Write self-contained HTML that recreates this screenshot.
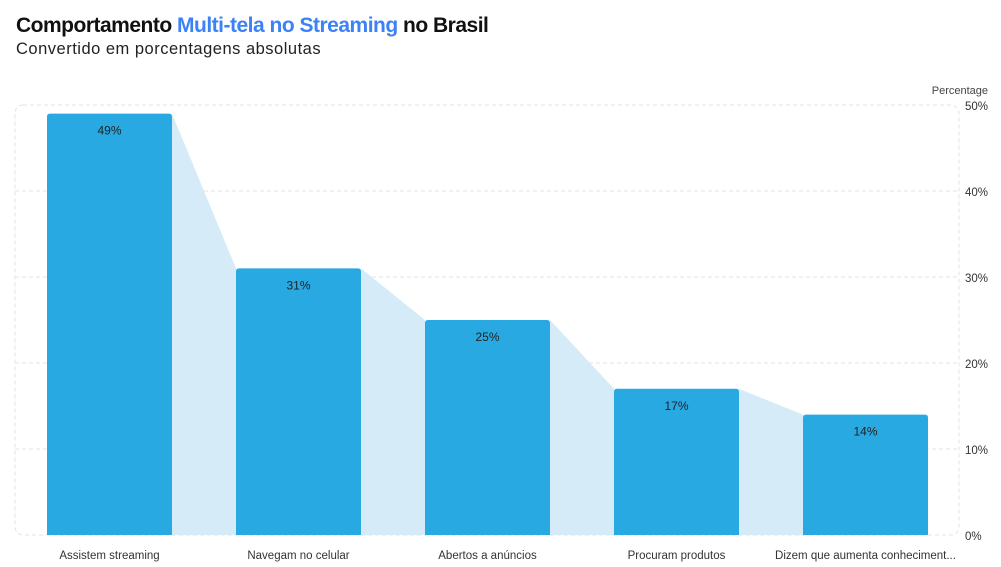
<!DOCTYPE html>
<html><head><meta charset="utf-8"><style>
body{margin:0;background:#fff;font-family:"Liberation Sans",sans-serif;}
#wrap{position:relative;width:1001px;height:567px;overflow:hidden;}
h1{position:absolute;left:16px;top:14px;margin:0;font-size:21px;font-weight:bold;color:#111;letter-spacing:-0.5px;}
h1 span{color:#3b82f6;}
.sub{position:absolute;left:16px;top:40px;font-size:16.5px;color:#222;letter-spacing:0.5px;}
</style></head><body>
<div id="wrap">
<h1>Comportamento <span>Multi-tela no Streaming</span> no Brasil</h1>
<div class="sub">Convertido em porcentagens absolutas</div>
<svg id="chart" width="1001" height="567" style="position:absolute;left:0;top:0"></svg>
</div>
<script>
const categories=["Assistem streaming","Navegam no celular","Abertos a anúncios","Procuram produtos","Dizem que aumenta conheciment..."];
const values=[49,31,25,17,14];
const ticks=[0,10,20,30,40,50];
const tickLabels=["0%","10%","20%","30%","40%","50%"];
const NS="http://www.w3.org/2000/svg";
const svg=document.getElementById('chart');
const x0=15,band=189,barW=125,yTop=105,yBot=535,maxV=50;
const y=v=>yBot-(v/maxV)*(yBot-yTop);
const bx=i=>x0+band*i+(band-barW)/2;
function mk(t,a){const e=document.createElementNS(NS,t);for(const k in a)e.setAttribute(k,a[k]);svg.appendChild(e);return e;}
ticks.forEach((t,i)=>{
 if(t>0&&t<50){const g=mk('line',{x1:x0,x2:959,y1:y(t),y2:y(t),stroke:'#e3e3e3','stroke-dasharray':'4 3'});
 
 }
 const l=mk('text',{x:965,y:y(t)+5,'font-size':11.5,fill:'#333'});l.textContent=tickLabels[i];
 
 
});
const fr=mk('rect',{x:x0,y:yTop,width:944,height:yBot-yTop,rx:8,fill:'none',stroke:'#e3e3e3','stroke-dasharray':'4 3'});


const at=mk('text',{x:988,y:94,'font-size':11,fill:'#444','text-anchor':'end'});at.textContent='Percentage';


for(let i=0;i<values.length-1;i++){
 const xa=bx(i)+barW,xb=bx(i+1);
 const p=mk('polygon',{points:`${xa},${y(values[i])} ${xb},${y(values[i+1])} ${xb},${yBot} ${xa},${yBot}`,fill:'#d5ecf8'});
 
 
}
values.forEach((v,i)=>{
 const r=mk('path',{d:`M${bx(i)},${yBot} V${y(v)+3} Q${bx(i)},${y(v)} ${bx(i)+3},${y(v)} H${bx(i)+barW-3} Q${bx(i)+barW},${y(v)} ${bx(i)+barW},${y(v)+3} V${yBot} Z`,fill:'#29a9e1'});
 
 
 const t=mk('text',{x:bx(i)+barW/2,y:y(v)+21,'font-size':12,fill:'#222','text-anchor':'middle'});t.textContent=v+'%';
 
 
 const c=mk('text',{x:bx(i)+barW/2,y:559,'font-size':11.5,fill:'#333','text-anchor':'middle'});c.textContent=categories[i];
 
 
});
</script>
</body></html>
